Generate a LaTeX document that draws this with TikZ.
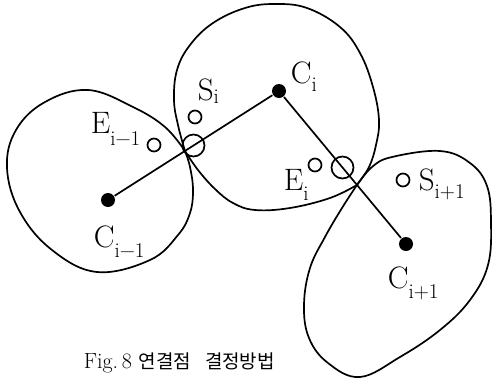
\documentclass[tikz,border=0pt]{standalone}
\usepackage{fontspec}
\usepackage{tikz}
\usetikzlibrary{calc}
\newfontfamily\kr{Noto Sans CJK KR}
\newcommand\lbl[3]{#1\raisebox{-#3pt}{\fontsize{21}{21}\selectfont #2}}

\begin{document}
\begin{tikzpicture}[x=1pt,y=-1pt,line width=1.7pt,
ctr/.style={circle,fill,inner sep=0pt,minimum size=14pt},
jnt/.style={circle,draw,inner sep=0pt,minimum size=22pt},
pnt/.style={circle,draw,inner sep=0pt,minimum size=13pt},
tag/.style={anchor=base west,inner sep=0pt,font=\fontsize{31}{36}\selectfont},
blob/.style={smooth,tension=0.65}]
\useasboundingbox (0,0) rectangle (493,378);
% centres of the three regions
\node[ctr] (cl) at (108,200) {};
\node[ctr] (cm) at (279,91) {};
\node[ctr] (cr) at (406,244) {};
\foreach \u/\v in {cl/cm,cm/cr}{\draw (\u)--(\v);}
% contact points of the boundaries
\coordinate (p) at ($(cl)!0.45!(cm)$);
\coordinate (q) at ($(cm)!0.614!(cr)$);
% boundaries
\draw plot[blob] coordinates {(p) (190,167) (193,190) (190,213) (178,235) (150,260) (97,272) (52,250) (20,212) (7,168) (16,130) (45,102) (88,90) (133,107) (165,127) (p)};
\draw plot[blob] coordinates {(p) (178,125) (174,100) (177,70) (190,45) (213,23) (245,8) (275,4) (307,8) (340,27) (360,53) (373,87) (379,120) (376,145) (369,167) (q)};
\draw plot[blob] coordinates {(q) (330,198) (290,208) (255,210) (233,203) (215,189) (198,170) (p)};
\draw plot[blob] coordinates {(q) (372,167) (392,157) (440,151) (470,163) (487,186) (491,222) (488,265) (470,300) (440,330) (400,357) (360,377) (328,363) (309,338) (304,305) (310,268) (325,237) (342,208) (q)};
% connection candidates
\node[jnt] (j1) at ($(cl)!0.5!(cm)$) {};
\node[jnt] (j2) at ($(cm)!0.5!(cr)$) {};
\node[pnt] (e0) at (154,145) {};
\node[pnt] (s1) at (195,117) {};
\node[pnt] (e1) at (315,165) {};
\node[pnt] (s2) at (403,180) {};
% labels
\node[tag] (tcm) at (290,83) {\lbl{C}{i}{8}};
\node[tag] (ts1) at (197,100) {\lbl{S}{i}{3}};
\node[tag] (te0) at (90,133) {\lbl{E}{i\char"2212 1}{12}};
\node[tag] (te1) at (283,190) {\lbl{E}{i}{10}};
\node[tag] (ts2) at (418,190) {\lbl{S}{i+1}{8}};
\node[tag] (tcl) at (93,247) {\lbl{C}{i\char"2212 1}{10}};
\node[tag] (tcr) at (387,288) {\lbl{C}{i+1}{10}};
\node[anchor=base west,inner sep=0pt,font=\fontsize{22}{26}\selectfont] (cap) at (83,368) {Fig.\,8 {\kr\fontsize{19}{24}\selectfont 연결점\hspace{14pt}결정방법}};
\end{tikzpicture}
\end{document}
